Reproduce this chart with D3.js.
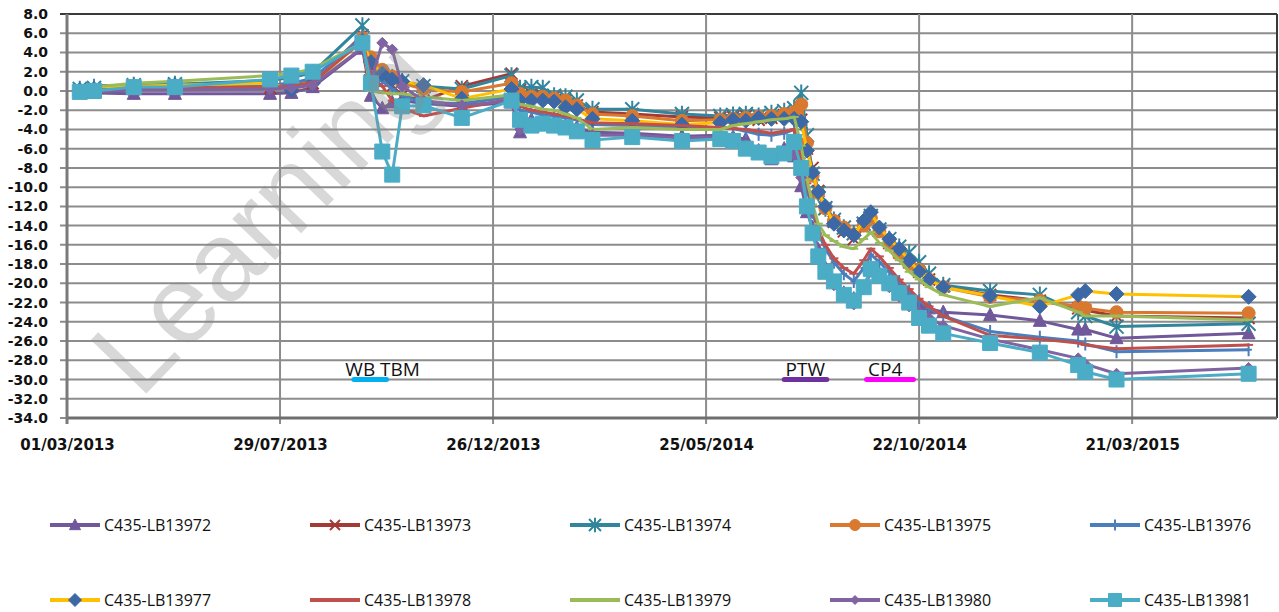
<!DOCTYPE html>
<html>
<head>
<meta charset="utf-8">
<script src="https://cdn.jsdelivr.net/npm/d3@7"></script>
<style>
  body { margin: 0; background: #fff; }
  svg { display: block; }
</style>
</head>
<body>
<svg id="chart"></svg>
<script>
'use strict';

// survey dates shared by every monitoring point
const dates = [
  '2013-03-10', '2013-03-20', '2013-04-17', '2013-05-16', '2013-07-22', '2013-08-06', '2013-08-21',
  '2013-09-25', '2013-10-01', '2013-10-09', '2013-10-16', '2013-10-23', '2013-11-07', '2013-12-04',
  '2014-01-08', '2014-01-14', '2014-01-22', '2014-01-30', '2014-02-07', '2014-02-15', '2014-02-23',
  '2014-03-06', '2014-04-03', '2014-05-08', '2014-06-04', '2014-06-13', '2014-06-22', '2014-07-01',
  '2014-07-10', '2014-07-19', '2014-07-26', '2014-07-31', '2014-08-04', '2014-08-08', '2014-08-12',
  '2014-08-17', '2014-08-23', '2014-08-30', '2014-09-06', '2014-09-13', '2014-09-18', '2014-09-24',
  '2014-10-01', '2014-10-08', '2014-10-15', '2014-10-22', '2014-10-29', '2014-11-08', '2014-12-11',
  '2015-01-15', '2015-02-11', '2015-02-16', '2015-03-10', '2015-06-11'
]

const lb13972 = [-0.2, -0.2, -0.3, -0.3, -0.3, -0.2, 0.4, 4.4, -0.5, -1.8, -1.2, -1.0, -1.3, -1.6,
  -1.2, -4.3, -3.0, -3.5, -3.3, -3.6, -3.8, -4.3, -4.4, -4.7, -4.6, -4.8, -5.0, -6.2, -7.1, -6.0, -6.8,
  -9.9, -12.6, -14.2, -16.5, -18.4, -19.8, -21.0, -21.6, -20.4, -18.6, -19.2, -19.8, -20.6, -21.4, -22.2,
  -22.6, -23.0, -23.3, -23.9, -24.8, -24.8, -25.7, -25.2]
const lb13973 = [0.0, 0.1, 0.2, 0.2, 0.3, 0.4, 0.8, 5.8, 2.5, 1.5, 0.5, -0.5, -1.0, 0.5,
  1.8, 0.1, -0.3, -0.5, -0.6, -0.9, -1.5, -2.2, -2.4, -2.7, -2.8, -2.7, -2.6, -3.0, -2.8, -2.5, -2.4,
  -3.0, -6.0, -8.0, -10.4, -12.2, -13.6, -14.6, -15.4, -14.2, -13.2, -14.6, -15.8, -16.8, -17.8, -18.8,
  -19.6, -20.3, -21.2, -21.8, -22.6, -22.8, -23.4, -23.6]
const lb13974 = [0.2, 0.3, 0.6, 0.7, 1.1, 1.4, 1.9, 6.8, 1.0, 1.6, 1.4, 1.0, 0.5, 0.2,
  1.6, 0.3, 0.4, 0.3, -0.5, -0.6, -1.0, -1.9, -1.9, -2.4, -2.6, -2.5, -2.4, -2.6, -2.3, -2.1, -1.8,
  -0.2, -4.6, -8.6, -10.6, -12.2, -13.4, -14.2, -14.8, -13.8, -13.0, -14.4, -15.4, -16.2, -16.8, -17.8,
  -19.0, -20.2, -20.8, -21.2, -23.0, -23.4, -24.5, -24.2]
const lb13975 = [0.0, 0.1, 0.3, 0.4, 0.6, 0.8, 1.2, 5.5, 3.5, 2.2, 1.5, 0.8, 0.2, -0.1,
  0.8, -0.3, -0.6, -0.6, -0.8, -1.0, -1.5, -2.4, -2.6, -3.1, -3.0, -2.9, -2.8, -2.7, -2.6, -2.4, -2.2,
  -1.4, -5.4, -8.8, -10.6, -12.2, -13.5, -14.2, -14.9, -14.0, -13.2, -14.6, -15.9, -17.0, -18.0, -18.6,
  -19.6, -20.4, -21.4, -21.8, -22.4, -22.6, -23.0, -23.1]
const lb13976 = [0.0, 0.6, 0.5, 0.5, 0.6, 0.8, 1.3, 5.6, 2.0, 1.0, 0.2, -0.5, -1.2, -1.3,
  -0.6, -2.0, -2.2, -2.5, -2.6, -2.8, -3.0, -3.5, -3.6, -3.8, -3.8, -3.9, -4.2, -4.5, -4.6, -4.4, -4.0,
  -7.4, -10.2, -12.6, -14.8, -16.4, -17.8, -19.0, -19.8, -18.4, -17.0, -17.8, -18.8, -19.8, -20.8, -21.8,
  -22.6, -23.4, -25.0, -25.6, -26.0, -26.3, -27.1, -26.9]
const lb13977 = [0.1, 0.2, 0.5, 0.6, 0.8, 0.1, 0.8, 5.2, 3.0, 1.8, 1.2, 1.0, 0.6, -0.8,
  0.2, -1.0, -1.0, -1.0, -1.1, -1.7, -1.9, -2.9, -3.1, -3.5, -3.3, -3.0, -3.1, -2.8, -2.9, -2.9, -2.9,
  -3.2, -6.2, -8.5, -10.5, -12.0, -13.8, -14.5, -15.0, -13.5, -12.6, -14.2, -15.4, -16.4, -17.6, -18.8,
  -19.6, -20.4, -21.3, -22.4, -21.2, -20.8, -21.1, -21.4]
const lb13978 = [0.0, 0.1, 0.2, 0.3, 0.4, 0.5, 0.9, 5.2, 1.5, 0.5, -1.0, -1.8, -2.6, -1.8,
  -0.8, -1.6, -2.0, -2.2, -2.4, -2.6, -2.9, -3.3, -3.4, -3.6, -3.8, -3.9, -4.0, -4.2, -4.4, -4.2, -4.0,
  -7.0, -9.6, -12.0, -14.4, -16.0, -17.4, -18.4, -19.0, -17.6, -16.4, -17.2, -18.4, -19.6, -20.6, -21.6,
  -22.4, -23.4, -25.4, -25.8, -26.2, -26.4, -26.8, -26.4]
const lb13979 = [0.2, 0.4, 0.8, 1.0, 1.6, 1.8, 2.3, 5.0, 0.0, -0.2, -0.3, -0.3, -0.6, -1.0,
  -0.4, -1.4, -1.6, -1.9, -2.0, -2.4, -2.8, -4.0, -3.8, -4.0, -4.0, -3.6, -3.4, -3.2, -3.0, -2.9, -2.7,
  -5.7, -9.2, -11.8, -13.8, -15.0, -15.6, -16.2, -16.4, -15.4, -14.7, -15.8, -16.6, -17.6, -18.8, -19.6,
  -20.4, -21.2, -22.4, -21.5, -23.0, -23.4, -23.4, -23.8]
const lb13980 = [-0.1, -0.1, 0.1, 0.1, 0.2, 0.3, 0.6, 4.5, 1.0, 5.0, 4.3, 0.5, -1.0, -1.5,
  -1.0, -4.0, -3.2, -3.6, -3.4, -3.7, -4.0, -4.6, -4.6, -4.9, -4.8, -5.0, -5.6, -6.6, -6.8, -6.4, -6.6,
  -9.0, -12.2, -14.4, -16.8, -18.6, -20.2, -21.4, -22.2, -20.6, -18.8, -19.4, -20.4, -21.4, -22.4, -23.0,
  -23.6, -24.4, -25.8, -26.9, -27.8, -28.4, -29.4, -28.8]
const lb13981 = [-0.1, 0.0, 0.4, 0.4, 1.2, 1.6, 2.0, 5.0, 0.8, -6.3, -8.7, -1.6, -1.5, -2.8,
  -1.0, -3.0, -3.6, -3.4, -3.6, -3.8, -4.2, -5.1, -4.8, -5.2, -5.0, -5.2, -6.0, -6.4, -6.8, -6.5, -5.3,
  -8.0, -12.0, -14.8, -17.2, -18.8, -19.8, -21.2, -21.8, -20.4, -18.5, -19.2, -20.0, -21.0, -22.0, -23.6,
  -24.4, -25.2, -26.2, -27.2, -28.5, -29.2, -30.0, -29.4]

const seriesNames = ['C435-LB13972', 'C435-LB13973', 'C435-LB13974', 'C435-LB13975', 'C435-LB13976',
  'C435-LB13977', 'C435-LB13978', 'C435-LB13979', 'C435-LB13980', 'C435-LB13981']
const seriesValues = [lb13972, lb13973, lb13974, lb13975, lb13976, lb13977, lb13978, lb13979, lb13980, lb13981]

const xTickDates = ['2013-03-01', '2013-07-29', '2013-12-26', '2014-05-25', '2014-10-22', '2015-03-21']
const yTicks = [8, 6, 4, 2, 0, -2, -4, -6, -8, -10, -12, -14, -16, -18, -20, -22, -24, -26, -28, -30, -32, -34]

// construction stages marked under the curves
const stageLabels = ['WB TBM', 'PTW', 'CP4']
const stageStart = ['2013-09-19', '2014-07-19', '2014-09-15']
const stageEnd = ['2013-10-12', '2014-08-18', '2014-10-18']
const stageTextAt = ['2013-09-13', '2014-07-20', '2014-09-16']
const stageLevel = [-30, -30, -30]

// styles
const lineColors = ['#71589A', '#A33A36', '#31859C', '#D9782F', '#4A7EBD', '#FFC000', '#C0504D', '#9BBB59', '#8064A2', '#4BACC6']
const markerColors = ['#71589A', '#A33A36', '#31859C', '#D9782F', '#4A7EBD', '#3C68A6', '#C0504D', '#9BBB59', '#8064A2', '#4BACC6']
const markerTypes = ['triangle', 'x', 'star', 'circle', 'plus', 'diamond', 'dash', 'dash', 'diamond', 'square']
const markerSizes = [13, 12, 14, 13, 13, 15, 9, 9, 11, 15]
const stageColors = ['#00B0F0', '#7030A0', '#FF00FF']

const width = 1279, height = 612
const margin = { left: 67, right: 2, top: 14, bottom: 194 }
const plotW = width - margin.left - margin.right
const plotH = height - margin.top - margin.bottom

const parse = d3.utcParse('%Y-%m-%d')
const when = dates.map(parse)

const x = d3.scaleUtc()
  .domain([parse('2013-03-01'), parse('2015-07-01')])
  .range([margin.left, margin.left + plotW])
const y = d3.scaleLinear()
  .domain([-34, 8])
  .range([margin.top + plotH, margin.top])

function markerPath(type, s) {
  let h = s / 2
  if (type === 'triangle') return 'M0,' + (-h * 1.1) + 'L' + h + ',' + (h * 0.85) + 'L' + (-h) + ',' + (h * 0.85) + 'Z'
  if (type === 'x') return 'M' + (-h) + ',' + (-h) + 'L' + h + ',' + h + 'M' + (-h) + ',' + h + 'L' + h + ',' + (-h)
  if (type === 'star') return 'M' + (-h) + ',' + (-h) + 'L' + h + ',' + h + 'M' + (-h) + ',' + h + 'L' + h + ',' + (-h) + 'M0,' + (-h * 1.2) + 'V' + (h * 1.2)
  if (type === 'circle') return 'M' + (-h) + ',0A' + h + ',' + h + ' 0 1,0 ' + h + ',0A' + h + ',' + h + ' 0 1,0 ' + (-h) + ',0Z'
  if (type === 'plus') return 'M0,' + (-h) + 'V' + h + 'M' + (-h * 0.5) + ',0H' + (h * 0.5)
  if (type === 'diamond') return 'M0,' + (-h) + 'L' + h + ',0L0,' + h + 'L' + (-h) + ',0Z'
  if (type === 'dash') return 'M' + (-h) + ',0H' + h
  return 'M' + (-h) + ',' + (-h) + 'H' + h + 'V' + h + 'H' + (-h) + 'Z'
}
const filled = { triangle: true, circle: true, diamond: true, square: true }

const svg = d3.select('#chart')
  .attr('width', width)
  .attr('height', height)
  .style('font-family', '"Open Sans", sans-serif')

// grid
svg.append('g').selectAll('line')
  .data(yTicks)
  .join('line')
  .attr('x1', margin.left - 7)
  .attr('x2', margin.left + plotW)
  .attr('y1', d => y(d))
  .attr('y2', d => y(d))
  .attr('stroke', d => d === 8 ? '#3a3a3a' : '#8c8c8c')
  .attr('stroke-width', 2)

svg.append('g').selectAll('line')
  .data(xTickDates.map(parse))
  .join('line')
  .attr('x1', d => x(d))
  .attr('x2', d => x(d))
  .attr('y1', margin.top)
  .attr('y2', margin.top + plotH + 6)
  .attr('stroke', '#8c8c8c')
  .attr('stroke-width', 2)

// frame
svg.append('line')
  .attr('x1', margin.left + plotW).attr('x2', margin.left + plotW)
  .attr('y1', margin.top).attr('y2', margin.top + plotH)
  .attr('stroke', '#3a3a3a').attr('stroke-width', 2)
svg.append('line')
  .attr('x1', margin.left).attr('x2', margin.left + plotW)
  .attr('y1', margin.top + plotH).attr('y2', margin.top + plotH)
  .attr('stroke', '#6e6e6e').attr('stroke-width', 3)
svg.append('line')
  .attr('x1', margin.left).attr('x2', margin.left)
  .attr('y1', margin.top).attr('y2', margin.top + plotH + 6)
  .attr('stroke', '#7a7a7a').attr('stroke-width', 3)

// axes labels
let yAxis = d3.axisLeft(y)
  .tickValues(yTicks)
  .tickFormat(v => v.toFixed(1))
  .tickSize(0)
  .tickPadding(19)
let yAxisG = svg.append('g')
  .attr('transform', 'translate(' + margin.left + ',0)')
  .call(yAxis)
yAxisG.select('.domain').remove()
yAxisG.selectAll('text')
  .style('font-family', '"DejaVu Sans", sans-serif')
  .style('font-size', '14px')
  .style('font-weight', 'bold')
  .attr('fill', '#111')

let xAxis = d3.axisBottom(x)
  .tickValues(xTickDates.map(parse))
  .tickFormat(d3.utcFormat('%d/%m/%Y'))
  .tickSize(0)
  .tickPadding(21)
let xAxisG = svg.append('g')
  .attr('transform', 'translate(0,' + (margin.top + plotH) + ')')
  .call(xAxis)
xAxisG.select('.domain').remove()
xAxisG.selectAll('text')
  .style('font-family', '"DejaVu Sans", sans-serif')
  .style('font-size', '15px')
  .style('font-weight', 'bold')
  .attr('fill', '#111')

// series
let line = d3.line()
  .defined(d => d.v != null)
  .x(d => x(d.t))
  .y(d => y(d.v))

let series = seriesNames.map((name, i) => ({
  name: name,
  i: i,
  points: seriesValues[i].map((v, j) => ({ t: when[j], v: v }))
}))

let sg = svg.append('g').selectAll('g')
  .data(series)
  .join('g')

sg.append('path')
  .attr('d', d => line(d.points))
  .attr('fill', 'none')
  .attr('stroke', d => lineColors[d.i])
  .attr('stroke-width', 3)
  .attr('stroke-linejoin', 'round')

sg.each(function(s) {
  let type = markerTypes[s.i]
  d3.select(this).selectAll('path.mk')
    .data(s.points.filter(p => p.v != null))
    .join('path')
    .attr('class', 'mk')
    .attr('transform', p => 'translate(' + x(p.t) + ',' + y(p.v) + ')')
    .attr('d', markerPath(type, markerSizes[s.i]))
    .attr('fill', filled[type] ? markerColors[s.i] : 'none')
    .attr('stroke', markerColors[s.i])
    .attr('stroke-width', filled[type] ? 1 : 2)
})

// stage marks
stageLabels.forEach((label, i) => {
  svg.append('line')
    .attr('x1', x(parse(stageStart[i])))
    .attr('x2', x(parse(stageEnd[i])))
    .attr('y1', y(stageLevel[i]))
    .attr('y2', y(stageLevel[i]))
    .attr('stroke', stageColors[i])
    .attr('stroke-width', 5)
    .attr('stroke-linecap', 'round')
  svg.append('text')
    .attr('x', x(parse(stageTextAt[i])))
    .attr('y', y(stageLevel[i]) - 4)
    .text(label)
    .style('font-size', '19px')
    .attr('fill', '#111')
})

// watermark
svg.append('text')
  .attr('transform', 'translate(140,400) rotate(-46)')
  .text('Learning')
  .style('font-family', '"Liberation Sans", sans-serif')
  .style('font-size', '112px')
  .attr('fill', '#8a8a8a')
  .attr('opacity', 0.33)

// legend
let lg = svg.append('g').selectAll('g')
  .data(series)
  .join('g')
  .attr('transform', d => 'translate(' + (50 + (d.i % 5) * 260) + ',' + (525 + Math.floor(d.i / 5) * 75) + ')')

lg.append('line')
  .attr('x1', 0).attr('x2', 50)
  .attr('stroke', d => lineColors[d.i])
  .attr('stroke-width', 4)
lg.append('path')
  .attr('transform', 'translate(25,0)')
  .attr('d', d => markerPath(markerTypes[d.i], markerSizes[d.i] - 2))
  .attr('fill', d => filled[markerTypes[d.i]] ? markerColors[d.i] : 'none')
  .attr('stroke', d => markerColors[d.i])
  .attr('stroke-width', d => filled[markerTypes[d.i]] ? 1 : 2)
lg.append('text')
  .attr('x', 54)
  .attr('dy', '0.35em')
  .text(d => d.name)
  .style('font-size', '16px')
  .attr('fill', '#111')
</script>
</body>
</html>
